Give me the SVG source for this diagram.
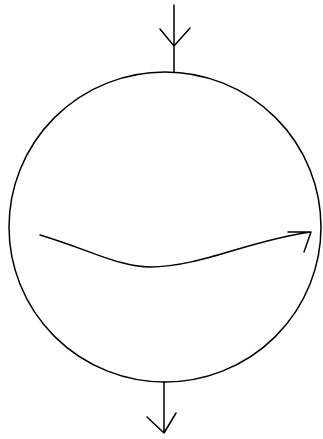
<svg xmlns="http://www.w3.org/2000/svg" width="323" height="439" viewBox="0 0 323 439">
<style>.s{fill:none;stroke:#000;stroke-width:1.5;stroke-linecap:round;stroke-linejoin:round}</style>
<rect width="323" height="439" fill="#fff"/>
<g id="sphere"><ellipse class="s" cx="165" cy="227" rx="156" ry="155"/></g>
<g id="connectors">
<path class="s" d="M174 5 V72 M160 29 L174 46 L190 28"/>
<path class="s" d="M164 382 V433 M147 417 L164 433 L176 413"/>
<path class="s" d="M40 235 C90 250 120 267 150 267 C200 267 250 240 311 232 M288 232 H311 L304 252"/>
</g>
</svg>
